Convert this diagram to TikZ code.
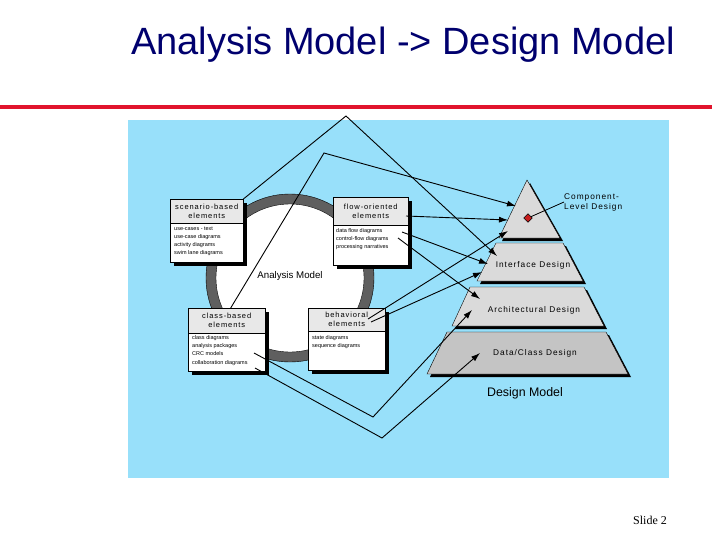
\documentclass[tikz,border=0pt]{standalone}
\usepackage{fontspec}
\setmainfont{Liberation Sans}
\newfontfamily\spacedfont[LetterSpace=12]{Liberation Sans}
\newfontfamily\slidefont{Liberation Serif}
\usetikzlibrary{positioning,shadows,arrows.meta}

\definecolor{titlenavy}{RGB}{0,0,110}
\definecolor{rulered}{RGB}{225,20,45}
\definecolor{panelblue}{RGB}{152,224,250}
\definecolor{ringgray}{RGB}{95,95,95}
\definecolor{layergray}{RGB}{218,218,218}
\definecolor{basegray}{RGB}{196,196,196}
\definecolor{headgray}{RGB}{232,232,232}
\definecolor{markred}{RGB}{200,30,30}

\begin{document}
\begin{tikzpicture}[x=1pt, y=-1pt,
    elembox/.style={draw=black, fill=white, inner sep=0pt, anchor=north west,
        drop shadow={shadow xshift=3.5pt, shadow yshift=-3.5pt, fill=black, opacity=1}},
    elemhead/.style={draw=black, fill=headgray, inner sep=0pt, anchor=north west,
        align=center, font=\spacedfont\fontsize{7.5}{9}\selectfont},
    elemtext/.style={inner sep=0pt, align=left, font=\fontsize{5.5}{8.2}\selectfont},
    layer/.style={draw=black, fill=layergray,
        drop shadow={shadow xshift=3pt, shadow yshift=-3pt, fill=black, opacity=1}},
    layerlabel/.style={font=\spacedfont\fontsize{8.3}{10}\selectfont, inner sep=0pt},
    link/.style={draw=black, line width=0.9pt, -{Latex[length=9pt, width=6pt]}}]
        \useasboundingbox (0,0) rectangle (717,538);

	% title and rule
	\node[text=titlenavy, font=\fontsize{38}{42}\selectfont] (title) at (403,45) {Analysis Model -> Design Model};
	\fill[rulered] (0,105) rectangle (712,109);

	\fill[panelblue] (128,120) rectangle (669,478);

	% analysis model ring
	\draw[draw=black, fill=ringgray] (290,278) circle[radius=84pt];
	\draw[draw=black, fill=white] (290,278) circle[radius=74pt];
	\node[font=\fontsize{9.7}{11}\selectfont] (amLabel) at (290,276) {Analysis Model};

	% element boxes
	\node[elembox, minimum width=73pt, minimum height=63pt] (scn) at (170,199) {};
	\node[elemhead, minimum width=73pt, minimum height=24pt] (scnH) at (scn.north west) {scenario-based\\elements};
	\node[elemtext, below right=3pt and 4pt of scnH.south west] (scnT) {use-cases - text\\use-case diagrams\\activity diagrams\\swim lane diagrams};

	\node[elembox, minimum width=75pt, minimum height=68pt] (flo) at (333,197) {};
	\node[elemhead, minimum width=75pt, minimum height=28pt] (floH) at (flo.north west) {flow-oriented\\elements};
	\node[elemtext, below right=3pt and 3pt of floH.south west] (floT) {data flow diagrams\\control-flow diagrams\\processing narratives};

	\node[elembox, minimum width=77pt, minimum height=63pt] (cls) at (188,308) {};
	\node[elemhead, minimum width=77pt, minimum height=25pt] (clsH) at (cls.north west) {class-based\\elements};
	\node[elemtext, below right=2pt and 4pt of clsH.south west] (clsT) {class diagrams\\analysis packages\\CRC models\\collaboration diagrams};

	\node[elembox, minimum width=77pt, minimum height=62pt] (beh) at (308,308) {};
	\node[elemhead, minimum width=77pt, minimum height=23pt] (behH) at (beh.north west) {behavioral\\elements};
	\node[elemtext, below right=4pt and 4pt of behH.south west] (behT) {state diagrams\\sequence diagrams};

	% design model pyramid
	\path[layer] (527,180) -- (560,238) -- (499,238) -- cycle;
	\path[layer] (496,243) -- (563,243) -- (583,281) -- (477,281) -- cycle;
	\path[layer] (470,287) -- (584,287) -- (604,326) -- (452,326) -- cycle;
	\path[layer, fill=basegray] (447,332) -- (606,332) -- (628,374) -- (427,374) -- cycle;

	\node[draw=black, fill=markred, rotate=45, minimum size=6pt, inner sep=0pt] (cmpMark) at (528,218) {};
	\node[layerlabel, anchor=west, align=left] (cmpLabel) at (564,202) {Component-\\Level Design};
	\draw[draw=black, line width=0.8pt] (cmpMark) -- (cmpLabel.west);

	\node[layerlabel] (ifcLabel) at (533,265) {Interface Design};
	\node[layerlabel] (arcLabel) at (534,310) {Architectural Design};
	\node[layerlabel] (datLabel) at (535,353) {Data/Class Design};
	\node[font=\fontsize{12.4}{14}\selectfont] (dmLabel) at (525,393) {Design Model};

	% bends and ends of the links
	\coordinate (peakA) at (346,116);
	\coordinate (peakB) at (324,153);
	\coordinate (dipA) at (373,417);
	\coordinate (dipB) at (382,438);

	\coordinate (floOut1) at (406,216);
	\coordinate (floOut2) at (402,232);
	\coordinate (floOut3) at (398,238);
	\coordinate (behOut1) at (368,319);
	\coordinate (behOut2) at (371,322);
	\coordinate (clsOut1) at (254,353);
	\coordinate (clsOut2) at (255,368);

	\coordinate (cmpIn1) at (516,206);
	\coordinate (cmpIn2) at (508,220);
	\coordinate (cmpIn3) at (508,231);
	\coordinate (ifcIn1) at (497,256);
	\coordinate (ifcIn2) at (488,264);
	\coordinate (ifcIn3) at (482,272);
	\coordinate (arcIn1) at (480,299);
	\coordinate (arcIn2) at (472,310);
	\coordinate (datIn) at (480,353);

	\draw[link] (scn.north east) -- (peakA) -- (ifcIn1);
	\draw[link] ([xshift=4pt]cls.north) -- (peakB) -- (cmpIn1);
	\draw[link] (floOut1) -- (cmpIn2);
	\draw[link] (floOut2) -- (ifcIn2);
	\draw[link] (floOut3) -- (arcIn1);
	\draw[link] (behOut1) -- (cmpIn3);
	\draw[link] (behOut2) -- (ifcIn3);
	\draw[link] (clsOut1) -- (dipA) -- (arcIn2);
	\draw[link] (clsOut2) -- (dipB) -- (datIn);

	\node[font=\slidefont\fontsize{12}{14}\selectfont] (slideNo) at (650,520) {Slide 2};
\end{tikzpicture}
\end{document}
